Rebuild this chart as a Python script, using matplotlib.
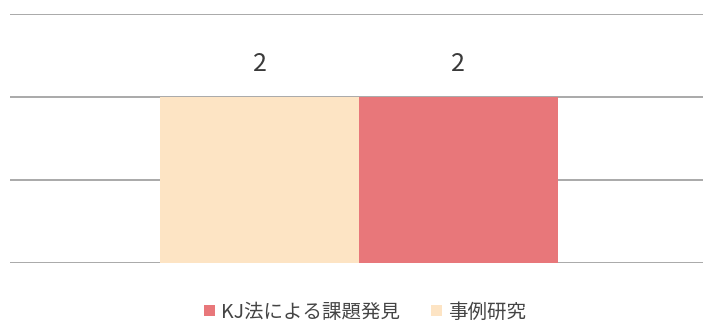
import matplotlib.pyplot as plt

plt.rcParams['font.family'] = ['Noto Sans CJK JP', 'DejaVu Sans']

# data
series = ["事例研究", "KJ法による課題発見"]
values = [2, 2]
colors = ["#FDE4C4", "#E8777A"]
legend_order = [1, 0]

fig = plt.figure(figsize=(7.03, 3.25), dpi=100)
ax = fig.add_axes([10 / 703, (325 - 263) / 325, 693 / 703, (263 - 14) / 325])

width = 0.574
offsets = [-width / 2, width / 2]
bars = []
for i, name in enumerate(series):
    b = ax.bar(0.007 + offsets[i], values[i], width=width, color=colors[i],
               label=name, zorder=3)
    bars.append(b)
    ax.annotate(str(values[i]), xy=(0.007 + offsets[i], values[i]),
                xytext=(0, 24), textcoords='offset points',
                ha='center', va='center', fontsize=18, color='#3a3a3a')

ax.set_xlim(-1, 1)
ax.set_ylim(0, 3)
ax.set_yticks([0, 1, 2, 3])
ax.yaxis.grid(True, color='#a3a3a3', linewidth=1.3)
ax.set_axisbelow(True)
ax.tick_params(left=False, bottom=False, labelleft=False, labelbottom=False)
for s in ax.spines.values():
    s.set_visible(False)

handles = [bars[i] for i in legend_order]
labels = [series[i] for i in legend_order]
fig.legend(handles, labels, loc='center', bbox_to_anchor=(365 / 703, 1 - 312 / 325),
           ncol=2, frameon=False, fontsize=14, handlelength=0.55, handleheight=0.55,
           handletextpad=0.3, columnspacing=1.6, labelcolor='#444444',
           borderpad=0, borderaxespad=0)

fig.savefig("out.png", dpi=100)
